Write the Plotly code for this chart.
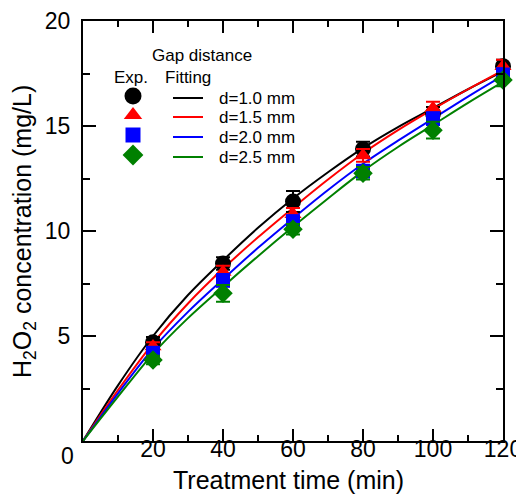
import plotly.graph_objects as go

# ---------------- data ----------------
time_exp = [20, 40, 60, 80, 100, 120]
exp_d10 = [4.7, 8.45, 11.4, 13.9, 15.6, 17.85]
err_d10 = [0.25, 0.3, 0.5, 0.35, 0.3, 0.3]
exp_d15 = [4.5, 8.05, 10.8, 13.6, 15.85, 17.85]
err_d15 = [0.2, 0.3, 0.3, 0.3, 0.3, 0.3]
exp_d20 = [4.2, 7.65, 10.45, 12.85, 15.35, 17.45]
err_d20 = [0.2, 0.3, 0.3, 0.3, 0.3, 0.3]
exp_d25 = [3.86, 7.03, 10.08, 12.75, 14.8, 17.19]
err_d25 = [0.2, 0.4, 0.25, 0.3, 0.4, 0.3]

time_fit = [0, 10, 20, 30, 40, 50, 60, 70, 80, 90, 100, 110, 120]
fit_d10 = [0, 2.65, 5.0, 6.95, 8.6, 10.15, 11.55, 12.8, 13.95, 14.95, 15.85, 16.75, 17.6]
fit_d15 = [0, 2.42, 4.65, 6.55, 8.2, 9.7, 11.1, 12.45, 13.7, 14.8, 15.8, 16.75, 17.65]
fit_d20 = [0, 2.27, 4.4, 6.15, 7.7, 9.2, 10.6, 11.95, 13.2, 14.3, 15.35, 16.4, 17.4]
fit_d25 = [0, 2.11, 4.15, 5.85, 7.35, 8.8, 10.2, 11.55, 12.85, 14.0, 15.05, 16.1, 17.1]

series_names = ["d=1.0 mm", "d=1.5 mm", "d=2.0 mm", "d=2.5 mm"]
x_ticks = [0, 20, 40, 60, 80, 100, 120]
x_ticktext = ["", "20", "40", "60", "80", "100", "120"]
y_ticks = [0, 5, 10, 15, 20]
y_ticktext = ["", "5", "10", "15", "20"]

# ---------------- styles ----------------
colors = ["#000000", "#ff0000", "#0000ff", "#008000"]
symbols = ["circle", "triangle-up", "square", "diamond"]
sizes = [16, 15, 14, 15]
FONT = "Liberation Sans, Arial, sans-serif"

exp_vals = [exp_d10, exp_d15, exp_d20, exp_d25]
exp_errs = [err_d10, err_d15, err_d20, err_d25]
fit_vals = [fit_d10, fit_d15, fit_d20, fit_d25]

fig = go.Figure()

for i in range(4):
    fig.add_trace(go.Scatter(
        x=time_fit, y=fit_vals[i], mode="lines", line_shape="spline",
        line=dict(color=colors[i], width=2), showlegend=False, hoverinfo="skip"))

for i in range(4):
    fig.add_trace(go.Scatter(
        x=time_exp, y=exp_vals[i], mode="markers",
        marker=dict(color=colors[i], symbol=symbols[i], size=sizes[i], line=dict(width=0)),
        error_y=dict(type="data", array=exp_errs[i], color=colors[i], thickness=2, width=7),
        showlegend=False, cliponaxis=False))

# ---------------- custom legend (pixel overlay axes) ----------------
leg_marker_x = 50
leg_rows = [75, 94, 114, 134]
leg_line_x = [90, 120]
leg_text_x = 134
for i in range(4):
    fig.add_trace(go.Scatter(
        x=[leg_marker_x], y=[leg_rows[i]], xaxis="x2", yaxis="y2", mode="markers",
        marker=dict(color=colors[i], symbol=symbols[i], size=sizes[i] + 1, line=dict(width=0)),
        showlegend=False, hoverinfo="skip", cliponaxis=False))
    fig.add_trace(go.Scatter(
        x=leg_line_x, y=[leg_rows[i] + 2, leg_rows[i] + 2], xaxis="x2", yaxis="y2",
        mode="lines", line=dict(color=colors[i], width=2),
        showlegend=False, hoverinfo="skip", cliponaxis=False))
    fig.add_annotation(x=leg_text_x, y=leg_rows[i] + 2, xref="x2", yref="y2",
                       text=series_names[i], showarrow=False, xanchor="left", yanchor="middle",
                       font=dict(size=17, color="black", family=FONT))

fig.add_annotation(x=119, y=34, xref="x2", yref="y2", text="Gap distance", showarrow=False,
                   font=dict(size=17, color="black", family=FONT))
fig.add_annotation(x=48, y=56, xref="x2", yref="y2", text="Exp.", showarrow=False,
                   font=dict(size=17, color="black", family=FONT))
fig.add_annotation(x=104.5, y=56, xref="x2", yref="y2", text="Fitting", showarrow=False,
                   font=dict(size=17, color="black", family=FONT))

# axis titles & corner zero
fig.add_annotation(x=0.49, y=-0.093, xref="paper", yref="paper", text="Treatment time (min)",
                   showarrow=False, xanchor="center", yanchor="middle",
                   font=dict(size=25, color="black", family=FONT))
fig.add_annotation(x=-0.1405, y=0.5, xref="paper", yref="paper",
                   text="H<sub>2</sub>O<sub>2</sub> concentration (mg/L)", textangle=-90,
                   showarrow=False, xanchor="center", yanchor="middle",
                   font=dict(size=25, color="black", family=FONT))
fig.add_annotation(x=-0.036, y=-0.036, xref="paper", yref="paper", text="0",
                   showarrow=False, xanchor="center", yanchor="middle",
                   font=dict(size=23, color="black", family=FONT))

axis_common = dict(showline=True, linewidth=2, linecolor="black", mirror="allticks",
                   ticks="inside", tickwidth=2, tickcolor="black", showgrid=False,
                   zeroline=False, automargin=False, ticklabeloverflow="allow",
                   tickfont=dict(size=23, color="black", family=FONT))

# the page body adds an 8px offset, so the figure is sized/placed to compensate
fig.update_layout(
    width=516, height=486,
    margin=dict(l=75, r=21, t=13, b=53, autoexpand=False),
    paper_bgcolor="white", plot_bgcolor="white",
    xaxis=dict(range=[0, 120], tickmode="array", tickvals=x_ticks, ticktext=x_ticktext,
               ticklen=12, ticklabelstandoff=-14,
               minor=dict(tick0=0, dtick=10, ticks="inside", ticklen=6, tickwidth=2, tickcolor="black"),
               **axis_common),
    yaxis=dict(range=[0, 20], tickmode="array", tickvals=y_ticks, ticktext=y_ticktext,
               ticklen=13, ticklabelstandoff=6,
               minor=dict(tick0=0, dtick=2.5, ticks="inside", ticklen=7, tickwidth=2, tickcolor="black"),
               **axis_common),
    xaxis2=dict(overlaying="x", anchor="y2", range=[0, 420], visible=False, fixedrange=True),
    yaxis2=dict(overlaying="y", anchor="x2", range=[420, 0], visible=False, fixedrange=True),
    showlegend=False,
)

fig.write_html("out.html")
